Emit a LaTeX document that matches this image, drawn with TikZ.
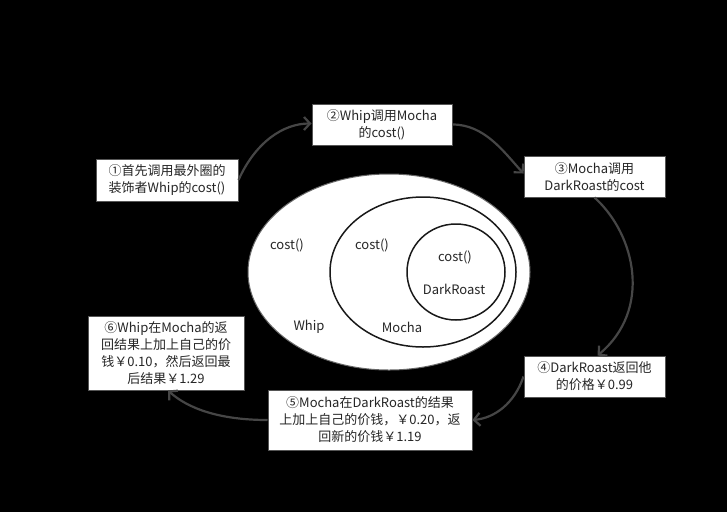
\documentclass[tikz,border=0pt]{standalone}
\usepackage{fontspec}
\setmainfont{Noto Sans CJK SC}
\usetikzlibrary{arrows.meta}
\definecolor{arrowgray}{HTML}{464646}
\definecolor{boxline}{HTML}{555555}
\tikzset{
  stepbox/.style={draw=boxline, line width=1pt, fill=white, align=center, inner sep=0pt,
    font=\fontsize{13}{17}\selectfont, text=black!85},
  flow/.style={draw=arrowgray, line width=2.2pt, -{Straight Barb[length=6pt,width=13pt,line width=2.2pt]}},
  ring/.style={draw=black!90, line width=1.5pt},
  lbl/.style={font=\fontsize{13}{15}\selectfont, text=black!85, inner sep=0pt},
}
\begin{document}
\begin{tikzpicture}[x=1pt,y=-1pt]
\fill[black] (0,0) rectangle (727,512);
\useasboundingbox (0,0) rectangle (727,512);
% ellipses
\path[fill=white, draw=black!60, line width=1pt] (389,272) ellipse [x radius=141, y radius=98];
\path[ring] (423,272) ellipse [x radius=93, y radius=75];
\path[ring] (456,272) ellipse [x radius=49, y radius=48];
\node[lbl] (c1) at (287,245) {cost()};
\node[lbl] (c2) at (372,245) {cost()};
\node[lbl] (c3) at (455,257) {cost()};
\node[lbl] (dr) at (454,289) {DarkRoast};
\node[lbl] (wh) at (309,327) {Whip};
\node[lbl] (mo) at (402,327) {Mocha};
% boxes
\node[stepbox, minimum width=142pt, minimum height=42pt] (b1) at (167,180) {①首先调用最外圈的\\装饰者Whip的cost()};
\node[stepbox, minimum width=140pt, minimum height=41pt] (b2) at (382,124.5) {②Whip调用Mocha\\的cost()};
\node[stepbox, minimum width=141pt, minimum height=41pt] (b3) at (594.5,176.5) {③Mocha调用\\DarkRoast的cost};
\node[stepbox, minimum width=141pt, minimum height=41pt] (b4) at (594.5,376.5) {④DarkRoast返回他\\的价格￥0.99};
\node[stepbox, minimum width=204pt, minimum height=60pt] (b5) at (370,420) {⑤Mocha在DarkRoast的结果\\上加上自己的价钱，￥0.20，返\\回新的价钱￥1.19};
\node[stepbox, minimum width=156pt, minimum height=74pt] (b6) at (166,353) {⑥Whip在Mocha的返\\回结果上加上自己的价\\钱￥0.10，然后返回最\\后结果￥1.29};
% connectors
\draw[flow] (b1.east) .. controls +(17,-38) and +(-28,0) .. ([yshift=1pt]b2.west);
\draw[flow] (b2.east) .. controls +(32,0) and +(-20,-22) .. ([yshift=3pt]b3.west);
\draw[flow] (b3.south) .. controls (636,235) and (652,310) .. ([xshift=3pt]b4.north);
\draw[flow] (b4.west) .. controls +(-9,27) and +(22,-2) .. (b5.east);
\draw[flow] (b5.west) .. controls +(-48,0) and +(20,18) .. ([xshift=2pt]b6.south);
\end{tikzpicture}
\end{document}
